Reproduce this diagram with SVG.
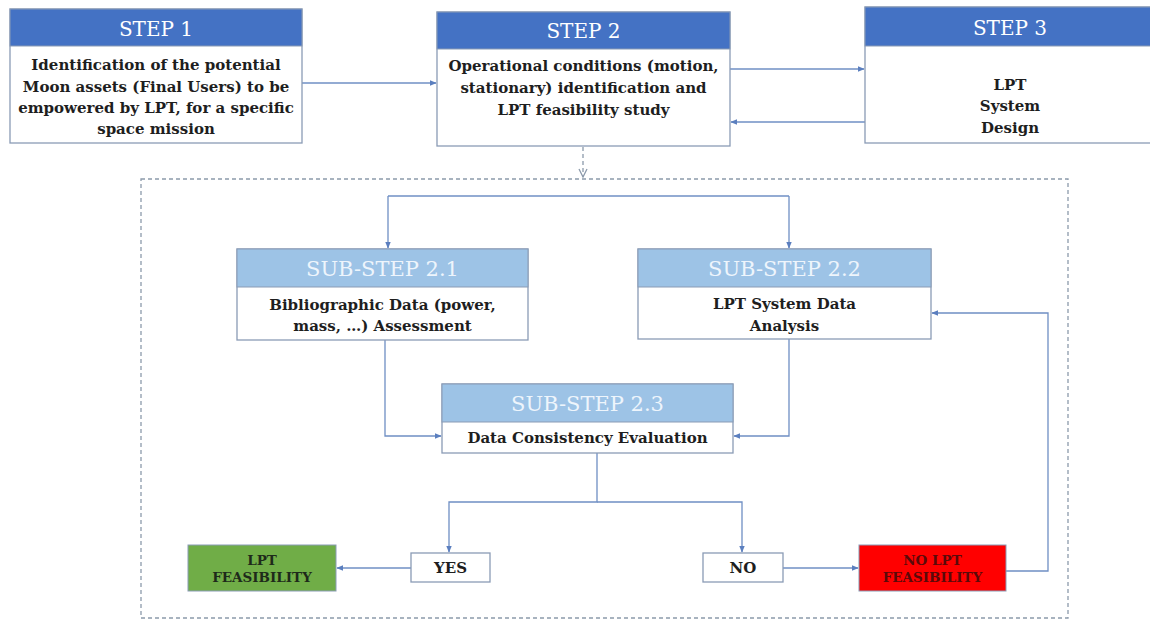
<svg xmlns="http://www.w3.org/2000/svg" width="1150" height="620" viewBox="0 0 1150 620">
<defs>
<style>
.box{fill:#ffffff;stroke:#8a9bb5;stroke-width:1.3}
.hdr{fill:#4472c4;stroke:#8a9bb5;stroke-width:1}
.shdr{fill:#9dc3e6;stroke:#8a9bb5;stroke-width:1}
.ht{font-family:"DejaVu Serif","Liberation Serif",serif;font-size:20px;fill:#ffffff;text-anchor:middle}
.sht{font-family:"DejaVu Serif","Liberation Serif",serif;font-size:21px;fill:#eef5fc;text-anchor:middle}
.bt{font-family:"DejaVu Serif","Liberation Serif",serif;font-size:15px;font-weight:bold;fill:#1e1e1e;text-anchor:middle}
.st{font-family:"DejaVu Serif","Liberation Serif",serif;font-size:13.5px;font-weight:bold;text-anchor:middle}
.con{fill:none;stroke:#6f8fc4;stroke-width:1.3}
.dash{fill:none;stroke:#8c9aab;stroke-width:1.3;stroke-dasharray:4 3}
</style>
<marker id="ah" viewBox="0 0 10 10" refX="9" refY="5" markerWidth="7" markerHeight="7" orient="auto" markerUnits="userSpaceOnUse">
<path d="M0,1 L10,5 L0,9 z" fill="#5b7fbf"/>
</marker>
<marker id="av" viewBox="0 0 10 10" refX="9" refY="5" markerWidth="10" markerHeight="10" orient="auto" markerUnits="userSpaceOnUse">
<path d="M1,1 L9,5 L1,9" fill="none" stroke="#8c9aab" stroke-width="1.3"/>
</marker>
</defs>
<rect width="1150" height="620" fill="#ffffff"/>

<rect class="dash" x="141" y="179" width="927" height="439"/>

<g id="connectors">
<path class="con" d="M302,83 H436" marker-end="url(#ah)"/>
<path class="con" d="M730,69 H864" marker-end="url(#ah)"/>
<path class="con" d="M865,122 H731" marker-end="url(#ah)"/>
<path class="dash" d="M583,147 V177" marker-end="url(#av)"/>
<path class="con" d="M388,196 H789"/>
<path class="con" d="M388,196 V248" marker-end="url(#ah)"/>
<path class="con" d="M789,196 V248" marker-end="url(#ah)"/>
<path class="con" d="M385,340 V436 H441" marker-end="url(#ah)"/>
<path class="con" d="M789,339 V436 H734" marker-end="url(#ah)"/>
<path class="con" d="M597,453 V502 H449 V552" marker-end="url(#ah)"/>
<path class="con" d="M597,502 H742 V552" marker-end="url(#ah)"/>
<path class="con" d="M411,568 H337" marker-end="url(#ah)"/>
<path class="con" d="M783,568 H858" marker-end="url(#ah)"/>
<path class="con" d="M1006,571 H1048 V313 H932" marker-end="url(#ah)"/>
</g>

<g id="step1">
<rect class="box" x="10" y="9" width="292" height="134"/>
<rect class="hdr" x="10" y="9" width="292" height="37"/>
<text class="ht" x="156" y="36">STEP 1</text>
<text class="bt" x="156" y="70">Identification of the potential</text>
<text class="bt" x="156" y="92">Moon assets (Final Users) to be</text>
<text class="bt" x="156" y="113">empowered by LPT, for a specific</text>
<text class="bt" x="156" y="134">space mission</text>
</g>

<g id="step2">
<rect class="box" x="437" y="12" width="293" height="134"/>
<rect class="hdr" x="437" y="12" width="293" height="37"/>
<text class="ht" x="583.5" y="38">STEP 2</text>
<text class="bt" x="583.5" y="71">Operational conditions (motion,</text>
<text class="bt" x="583.5" y="93">stationary) identification and</text>
<text class="bt" x="583.5" y="115">LPT feasibility study</text>
</g>

<g id="step3">
<rect class="box" x="865" y="7" width="290" height="136"/>
<rect class="hdr" x="865" y="7" width="290" height="39"/>
<text class="ht" x="1010" y="35">STEP 3</text>
<text class="bt" x="1010" y="90">LPT</text>
<text class="bt" x="1010" y="111">System</text>
<text class="bt" x="1010" y="133">Design</text>
</g>

<g id="substep21">
<rect class="box" x="237" y="249" width="291" height="91"/>
<rect class="shdr" x="237" y="249" width="291" height="38"/>
<text class="sht" x="382.5" y="276">SUB-STEP 2.1</text>
<text class="bt" x="382.5" y="310">Bibliographic Data (power,</text>
<text class="bt" x="382.5" y="331">mass, …) Assessment</text>
</g>

<g id="substep22">
<rect class="box" x="638" y="249" width="293" height="90"/>
<rect class="shdr" x="638" y="249" width="293" height="38"/>
<text class="sht" x="784.5" y="276">SUB-STEP 2.2</text>
<text class="bt" x="784.5" y="309">LPT System Data</text>
<text class="bt" x="784.5" y="331">Analysis</text>
</g>

<g id="substep23">
<rect class="box" x="442" y="384" width="291" height="69"/>
<rect class="shdr" x="442" y="384" width="291" height="38"/>
<text class="sht" x="587.5" y="411">SUB-STEP 2.3</text>
<text class="bt" x="587.5" y="443">Data Consistency Evaluation</text>
</g>

<g id="yes">
<rect class="box" x="411" y="553" width="79" height="29"/>
<text class="bt" x="450.5" y="573">YES</text>
</g>

<g id="no">
<rect class="box" x="703" y="553" width="80" height="29"/>
<text class="bt" x="743" y="573">NO</text>
</g>

<g id="lpt-feasibility">
<rect x="188" y="545" width="148" height="46" fill="#70ad47" stroke="#8a9bb5" stroke-width="1"/>
<text class="st" x="262" y="565" fill="#1e2a1a">LPT</text>
<text class="st" x="262" y="582" fill="#1e2a1a">FEASIBILITY</text>
</g>

<g id="no-lpt-feasibility">
<rect x="859" y="545" width="147" height="46" fill="#ff0000" stroke="#8a9bb5" stroke-width="1"/>
<text class="st" x="932.5" y="565" fill="#5a0a0a">NO LPT</text>
<text class="st" x="932.5" y="582" fill="#5a0a0a">FEASIBILITY</text>
</g>
</svg>
